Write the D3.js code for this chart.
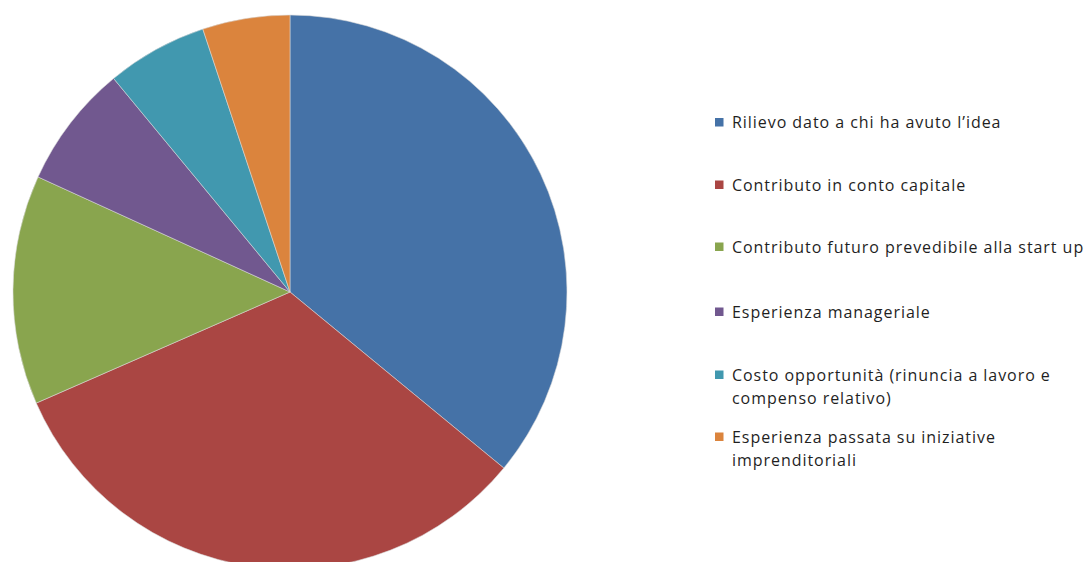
<!DOCTYPE html>
<html>
<head>
<meta charset="utf-8">
<script src="https://cdn.jsdelivr.net/npm/d3@7/dist/d3.min.js"></script>
<style>
  html, body { margin: 0; padding: 0; background: #fff; }
  svg { display: block; }
  .legend text { font-family: "Open Sans", "Lato", sans-serif; font-size: 16px; letter-spacing: 0.95px; fill: #1f1f1f; }
</style>
</head>
<body>
<svg id="chart" width="1087" height="562"></svg>
<script>
// Shares of each factor (percent)
const categories = [
  "Rilievo dato a chi ha avuto l\u2019idea",
  "Contributo in conto capitale",
  "Contributo futuro prevedibile alla start up",
  "Esperienza manageriale",
  "Costo opportunit\u00e0 (rinuncia a lavoro e compenso relativo)",
  "Esperienza passata su iniziative imprenditoriali"
];
const values = [36.0, 32.5, 13.4, 7.2, 5.9, 5.1];
// Legend labels split into display lines
const legendLines = [
  ["Rilievo dato a chi ha avuto l\u2019idea"],
  ["Contributo in conto capitale"],
  ["Contributo futuro prevedibile alla start up"],
  ["Esperienza manageriale"],
  ["Costo opportunit\u00e0 (rinuncia a lavoro e", "compenso relativo)"],
  ["Esperienza passata su iniziative", "imprenditoriali"]
];
const colors = ["#4572A7", "#AA4643", "#89A54E", "#71588F", "#4198AF", "#DB843D"];

const svg = d3.select("#chart");
const cx = 290, cy = 292, r = 277;

const data = categories.map((c, i) => ({ name: c, value: values[i], color: colors[i] }));

const pie = d3.pie().sort(null).value(d => d.value);
const arc = d3.arc().innerRadius(0).outerRadius(r);

svg.append("g")
  .attr("transform", `translate(${cx},${cy})`)
  .selectAll("path")
  .data(pie(data))
  .join("path")
  .attr("d", arc)
  .attr("fill", d => d.data.color)
  .attr("stroke", "#d9d9d9")
  .attr("stroke-width", 0.8)
  .attr("stroke-opacity", 0.7);

// Legend
const legendY = [122.5, 185, 247, 312, 375, 437];
const lineH = 23;
const legend = svg.append("g").attr("class", "legend");
const items = legend.selectAll("g")
  .data(data)
  .join("g")
  .attr("transform", (d, i) => `translate(715,${legendY[i]})`);

items.append("rect")
  .attr("x", 0).attr("y", -4.5)
  .attr("width", 8.5).attr("height", 8.5)
  .attr("fill", d => d.color);

items.append("text")
  .attr("x", 17)
  .attr("y", 0)
  .selectAll("tspan")
  .data((d, i) => legendLines[i])
  .join("tspan")
  .attr("x", 17)
  .attr("y", (t, j) => j * lineH)
  .attr("dy", "0.35em")
  .text(t => t);
</script>
</body>
</html>
